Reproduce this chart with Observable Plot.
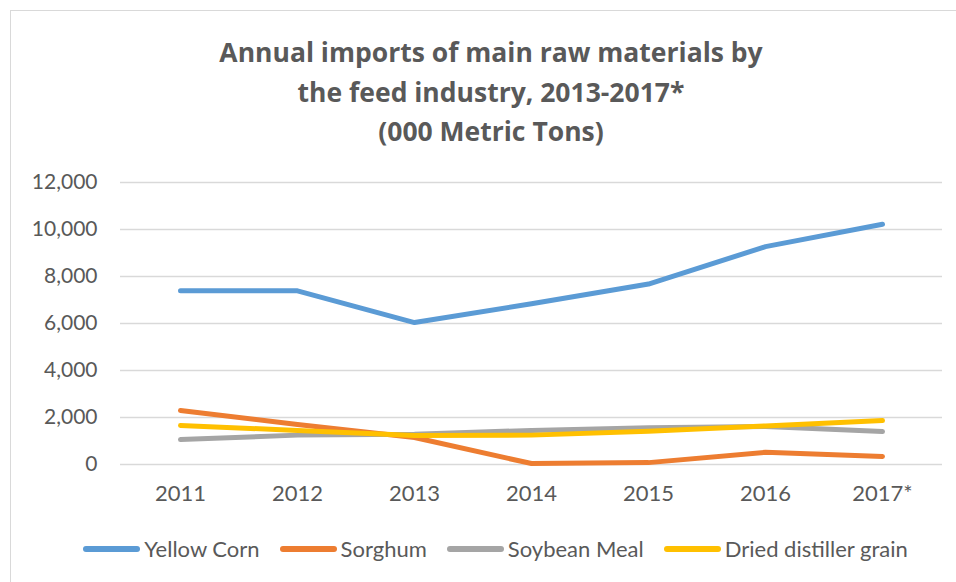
<!DOCTYPE html>
<html>
<head>
<meta charset="utf-8">
<script src="https://cdn.jsdelivr.net/npm/d3@7"></script>
<script src="https://cdn.jsdelivr.net/npm/@observablehq/plot@0.6"></script>
<style>
  html, body { margin: 0; padding: 0; background: #fff; }
  body { width: 956px; height: 582px; overflow: hidden; position: relative; font-family: Lato, "Open Sans", sans-serif; }
  #frame { position: absolute; left: 10px; top: 10px; width: 960px; height: 600px; border: 1.5px solid #d9d9d9; box-sizing: border-box; }
  #title { position: absolute; left: 0; width: 982px; top: 33px; text-align: center; color: #595959; font-family: "Open Sans", sans-serif; font-weight: bold; font-size: 26.5px; line-height: 39.5px; }
  #chart { position: absolute; left: 0; top: 165px; }
  #legend { position: absolute; left: 0; width: 991px; top: 535px; display: flex; justify-content: center; gap: 20px; color: #595959; font-size: 22px; line-height: 28px; }
  .item { display: flex; align-items: center; }
  .sw { width: 57px; height: 6px; border-radius: 3px; margin-right: 4px; }
</style>
</head>
<body>
<div id="frame"></div>
<div id="title">Annual imports of main raw materials by<br>the feed industry, 2013-2017*<br>(000 Metric Tons)</div>
<div id="chart"></div>
<div id="legend"></div>
<script>
const years = ["2011", "2012", "2013", "2014", "2015", "2016", "2017*"];
const seriesNames = ["Yellow Corn", "Sorghum", "Soybean Meal", "Dried distiller grain"];
const seriesColors = ["#5B9BD5", "#ED7D31", "#A5A5A5", "#FFC000"];
const yellowCorn = [7390, 7390, 6040, 6840, 7680, 9270, 10220];
const sorghum = [2300, 1700, 1150, 40, 80, 520, 340];
const soybeanMeal = [1060, 1250, 1290, 1450, 1560, 1620, 1400];
const driedDistillerGrain = [1660, 1450, 1230, 1250, 1420, 1640, 1870];
const yTicks = [0, 2000, 4000, 6000, 8000, 10000, 12000];

const seriesValues = [yellowCorn, sorghum, soybeanMeal, driedDistillerGrain];
const data = [];
seriesNames.forEach((name, i) => {
  years.forEach((yr, j) => data.push({series: name, year: yr, value: seriesValues[i][j]}));
});

const chart = Plot.plot({
  width: 956,
  height: 350,
  marginLeft: 120,
  marginRight: 14,
  marginTop: 17,
  marginBottom: 51,
  style: {fontFamily: "Lato, 'Open Sans', sans-serif", fontSize: "21px", color: "#595959", background: "transparent"},
  x: {type: "point", domain: years, padding: 0.5, label: null},
  y: {domain: [0, 12000], label: null},
  color: {domain: seriesNames, range: seriesColors},
  marks: [
    Plot.gridY(yTicks, {stroke: "#d9d9d9", strokeOpacity: 1, strokeWidth: 1.5}),
    Plot.axisY(yTicks, {tickSize: 0, tickPadding: 23, tickFormat: d3.format(","), fill: "#595959", fontSize: 21}),
    Plot.axisX({tickSize: 0, tickPadding: 21, fill: "#595959", fontSize: 22}),
    Plot.line(data, {x: "year", y: "value", z: "series", stroke: "series", strokeWidth: 5, strokeLinecap: "round", strokeLinejoin: "round"})
  ]
});
document.getElementById("chart").appendChild(chart);

const legend = document.getElementById("legend");
seriesNames.forEach((name, i) => {
  const it = document.createElement("div");
  it.className = "item";
  const sw = document.createElement("div");
  sw.className = "sw";
  sw.style.background = seriesColors[i];
  const t = document.createElement("span");
  t.textContent = name;
  it.appendChild(sw);
  it.appendChild(t);
  legend.appendChild(it);
});
</script>
</body>
</html>
